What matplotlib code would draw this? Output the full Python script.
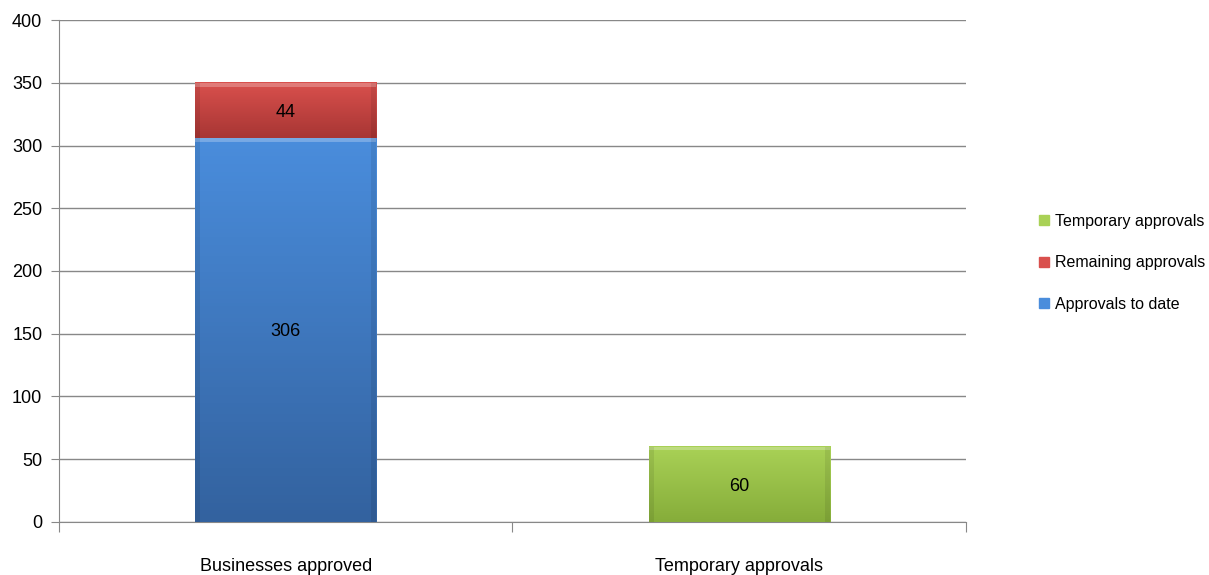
import numpy as np
import matplotlib
matplotlib.use("Agg")
import matplotlib.pyplot as plt
from matplotlib.colors import LinearSegmentedColormap
from matplotlib.patches import Patch

plt.rcParams['font.family'] = ['Liberation Sans', 'DejaVu Sans']

# data
categories = ["Businesses approved", "Temporary approvals"]
approvals_to_date = [306, 0]
remaining = [44, 0]
temporary = [0, 60]

colors = {
    "to_date": ("#4a8ddc", "#33629f"),
    "remaining": ("#d9504d", "#a83634"),
    "temporary": ("#a9d156", "#86ad3a"),
}

fig = plt.figure(figsize=(12.09, 5.75), dpi=100)
ax = fig.add_axes([0.0488, 0.0922, 0.7502, 0.8730])

x = np.arange(len(categories)) + 0.5
width = 0.40


def grad_bars(xs, heights, bottoms, cpair):
    bars = ax.bar(xs, heights, width, bottom=bottoms, color=cpair[0],
                  edgecolor="none", zorder=3)
    cmap = LinearSegmentedColormap.from_list("g", [cpair[1], cpair[0]])
    for b in bars:
        if b.get_height() <= 0:
            b.set_visible(False)
            continue
        x0, y0 = b.get_x(), b.get_y()
        w, h = b.get_width(), b.get_height()
        grad = np.linspace(0, 1, 100).reshape(-1, 1)
        ax.imshow(grad, extent=(x0, x0 + w, y0, y0 + h), origin="lower",
                  cmap=cmap, aspect="auto", zorder=3.1)
        # bevel: lighter top strip, darker sides
        ax.add_patch(plt.Rectangle((x0, y0 + h - min(h * 0.08, 3)), w,
                                   min(h * 0.08, 3), color="white",
                                   alpha=0.25, lw=0, zorder=3.2))
        ax.add_patch(plt.Rectangle((x0, y0), w * 0.03, h, color="black",
                                   alpha=0.08, lw=0, zorder=3.2))
        ax.add_patch(plt.Rectangle((x0 + w * 0.97, y0), w * 0.03, h,
                                   color="black", alpha=0.08, lw=0, zorder=3.2))
    return bars


grad_bars(x, approvals_to_date, 0, colors["to_date"])
grad_bars(x, remaining, approvals_to_date, colors["remaining"])
grad_bars(x, temporary, 0, colors["temporary"])

# value labels
ax.text(x[0], approvals_to_date[0] / 2, str(approvals_to_date[0]),
        ha="center", va="center_baseline", fontsize=13, zorder=5)
ax.text(x[0], approvals_to_date[0] + remaining[0] / 2, str(remaining[0]),
        ha="center", va="center_baseline", fontsize=13, zorder=5)
ax.text(x[1], temporary[1] / 2, str(temporary[1]),
        ha="center", va="center_baseline", fontsize=13, zorder=5)

ax.set_xlim(0, 2)
ax.set_ylim(0, 400)
ax.set_yticks(np.arange(0, 401, 50))
ax.set_xticks([0, 1, 2])
ax.set_xticklabels([])
ax.set_xticks(x, minor=True)
ax.set_xticklabels(categories, minor=True, fontsize=13)
ax.tick_params(axis="x", which="minor", length=0, pad=26)
ax.tick_params(axis="x", which="major", length=7, color="#888888")
ax.tick_params(axis="y", length=6, color="#888888", labelsize=13, pad=6)

ax.grid(axis="y", color="#888888", linewidth=1, zorder=0)
ax.set_axisbelow(True)
for s in ["top", "right"]:
    ax.spines[s].set_visible(False)
for s in ["left", "bottom"]:
    ax.spines[s].set_color("#888888")

handles = [Patch(color=colors["temporary"][0]),
           Patch(color=colors["remaining"][0]),
           Patch(color=colors["to_date"][0])]
labels = ["Temporary approvals", "Remaining approvals", "Approvals to date"]
fig.legend(handles, labels, loc="center left", bbox_to_anchor=(0.853, 0.543),
           frameon=False, fontsize=11.5, handlelength=0.6, handleheight=0.6,
           handletextpad=0.4, labelspacing=1.65, borderpad=0)

fig.savefig("out.png", dpi=100)
